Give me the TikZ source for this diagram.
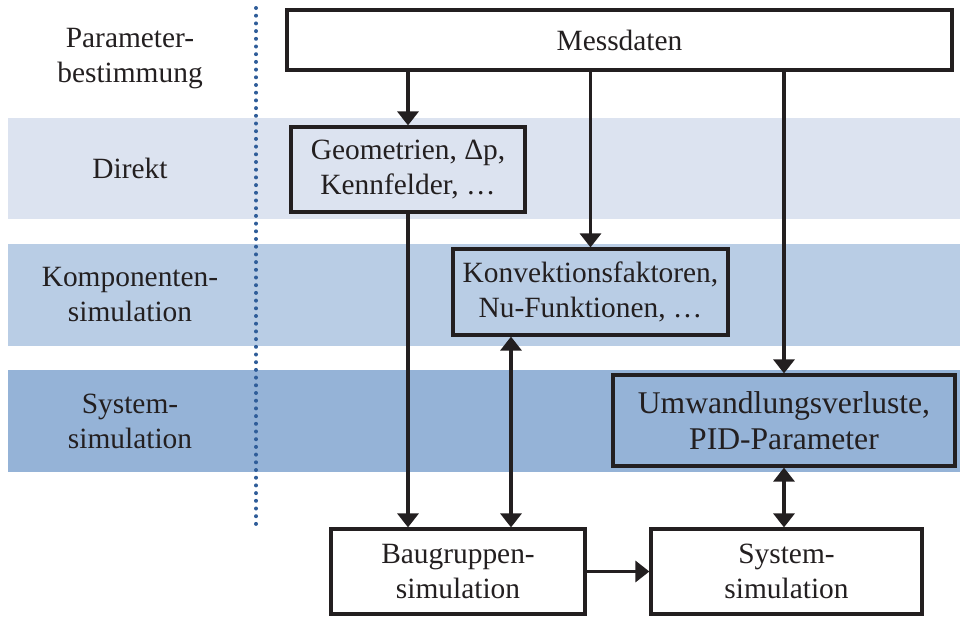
\documentclass[tikz,border=0pt]{standalone}
\usepackage{fontspec}
\setmainfont{Liberation Serif}
\usetikzlibrary{arrows.meta}
\definecolor{ink}{HTML}{231F20}
\definecolor{bandA}{HTML}{DCE3F0}
\definecolor{bandB}{HTML}{B9CDE5}
\definecolor{bandC}{HTML}{95B3D7}
\definecolor{dotblue}{HTML}{2F5D99}

\begin{document}
\begin{tikzpicture}[x=0.5pt,y=-0.5pt,
  every node/.style={font=\fontsize{14.7pt}{17.5pt}\selectfont, text=ink},
  box/.style={draw=ink, line width=1.6pt, align=center, inner sep=0pt},
  lbl/.style={align=center, inner sep=0pt},
  tip/.tip={Triangle[width=10.5pt,length=7pt]},
  arr/.style={draw=ink, line width=1.6pt, -tip},
  darr/.style={draw=ink, line width=1.6pt, tip-tip},
]
\useasboundingbox (0,0) rectangle (960,617);

% horizontal bands of the three modelling levels
\fill[bandA] (8,118) rectangle (960,219);
\fill[bandB] (8,244) rectangle (960,346);
\fill[bandC] (8,370) rectangle (960,472);

% dotted separator between labels and flow
\coordinate (dtop) at (256,8);
\coordinate (dbot) at (256,528);
\draw[dotblue, line width=2pt, line cap=round, dash pattern=on 0pt off 3.85pt] (dtop) -- (dbot);

% level labels
\node[lbl] (lpar) at (130,59) {Parameter-\\bestimmung};
\node[lbl] (ldir) at (130,168.5) {Direkt};
\node[lbl] (lkom) at (130,295) {Komponenten-\\simulation};
\node[lbl] (lsys) at (130,421) {System-\\simulation};

% boxes
\node[box, fill=white, minimum width=332.5pt, minimum height=30pt] (mess) at (619.5,40) {Messdaten};
\node[box, fill=bandA, minimum width=117pt, minimum height=42.5pt] (geo) at (408,169.5) {Geometrien, Δp,\\Kennfelder, …};
\node[box, fill=bandB, minimum width=137.5pt, minimum height=43pt] (konv) at (590.5,292) {Konvektionsfaktoren,\\Nu-Funktionen, …};
\node[box, fill=bandC, minimum width=171pt, minimum height=45.5pt,
      font=\fontsize{15.8pt}{18pt}\selectfont] (umw) at (784,420.5) {Umwandlungsverluste,\\PID-Parameter};
\node[box, fill=white, minimum width=127pt, minimum height=42.5pt] (bau) at (458,571.5) {Baugruppen-\\simulation};
\node[box, fill=white, minimum width=135.5pt, minimum height=42.5pt] (sys) at (786.5,571.5) {System-\\simulation};

% connectors
\coordinate (kx) at (511,0);
\draw[arr] (geo.north |- mess.south) -- (geo.north);
\draw[arr] (konv.north |- mess.south) -- (konv.north);
\draw[arr] (umw.north |- mess.south) -- (umw.north);
\draw[arr] (geo.south) -- (geo.south |- bau.north);
\draw[darr] (konv.south -| kx) -- (bau.north -| kx);
\draw[darr] (umw.south) -- (umw.south |- sys.north);
\draw[arr] (bau.east) -- (sys.west);
\end{tikzpicture}
\end{document}
